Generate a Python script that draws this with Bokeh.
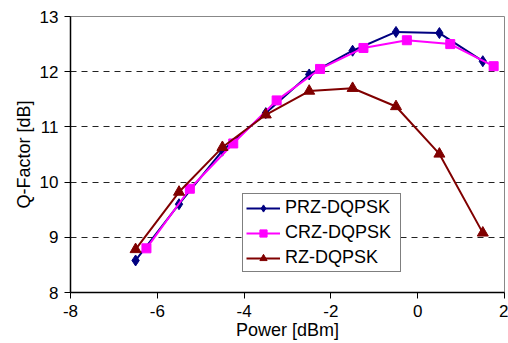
from bokeh.plotting import figure
from bokeh.models import FixedTicker, Range1d, Legend, LegendItem
from bokeh.embed import file_html
from bokeh.resources import INLINE

x_prz = [-6.5, -5.5, -4.5, -3.5, -2.5, -1.5, -0.5, 0.5, 1.5]
q_prz = [8.58, 9.60, 10.57, 11.25, 11.95, 12.38, 12.72, 12.70, 12.19]

x_crz = [-6.25, -5.25, -4.25, -3.25, -2.25, -1.25, -0.25, 0.75, 1.75]
q_crz = [8.80, 9.88, 10.70, 11.48, 12.05, 12.43, 12.57, 12.50, 12.10]

x_rz = [-6.5, -5.5, -4.5, -3.5, -2.5, -1.5, -0.5, 0.5, 1.5]
q_rz = [8.78, 9.82, 10.63, 11.22, 11.65, 11.70, 11.37, 10.51, 9.08]

x_ticks = [-8, -6, -4, -2, 0, 2]
y_ticks = [8, 9, 10, 11, 12, 13]

FONT = "Liberation Sans"

p = figure(width=508, height=343, output_backend="svg", toolbar_location=None,
           x_range=Range1d(-8, 2), y_range=Range1d(8, 13),
           min_border_left=70, min_border_right=4, min_border_top=16, min_border_bottom=51)
p.background_fill_color = "white"
p.border_fill_color = "white"
p.outline_line_color = "#888888"
p.outline_line_width = 1

p.xaxis.ticker = FixedTicker(ticks=x_ticks)
p.yaxis.ticker = FixedTicker(ticks=y_ticks)
p.xaxis.major_label_overrides = {t: str(t) for t in x_ticks}
p.yaxis.major_label_overrides = {t: str(t) for t in y_ticks}
p.xgrid.visible = False
p.ygrid.ticker = FixedTicker(ticks=[9, 10, 11, 12])
p.ygrid.grid_line_color = "#222222"
p.ygrid.grid_line_dash = "6 5"
p.ygrid.grid_line_width = 1

for ax in (p.xaxis, p.yaxis):
    ax.axis_line_color = "black"
    ax.axis_line_width = 1.5
    ax.major_tick_line_color = "black"
    ax.major_tick_out = 6
    ax.major_tick_in = 0
    ax.minor_tick_line_color = None
    ax.major_label_text_font = FONT
    ax.major_label_text_font_size = "17px"
    ax.major_label_text_color = "black"
    ax.axis_label_text_font = FONT
    ax.axis_label_text_font_size = "18px"
    ax.axis_label_text_font_style = "normal"
    ax.axis_label_text_color = "black"

p.xaxis.axis_label = "Power [dBm]"
p.yaxis.axis_label = "Q-Factor [dB]"
p.xaxis.major_label_standoff = 6
p.yaxis.major_label_standoff = 6
p.xaxis.axis_label_standoff = 0
p.yaxis.axis_label_standoff = 3

l1 = p.line(x_prz, q_prz, line_color="#000080", line_width=2)
m1 = p.scatter(x_prz, q_prz, marker="diamond", size=11, fill_color="#000080", line_color="#000080")
l2 = p.line(x_crz, q_crz, line_color="#FF00FF", line_width=2)
m2 = p.scatter(x_crz, q_crz, marker="square", size=9, fill_color="#FF00FF", line_color="#FF00FF")
l3 = p.line(x_rz, q_rz, line_color="#800000", line_width=2)
m3 = p.scatter(x_rz, q_rz, marker="triangle", size=11, fill_color="#800000", line_color="#800000")

legend = Legend(items=[
    LegendItem(label="PRZ-DQPSK", renderers=[l1, m1]),
    LegendItem(label="CRZ-DQPSK", renderers=[l2, m2]),
    LegendItem(label="RZ-DQPSK", renderers=[l3, m3]),
], location=(172, 20))
legend.label_text_font = FONT
legend.label_text_font_size = "18px"
legend.label_text_color = "black"
legend.border_line_color = "black"
legend.border_line_width = 1
legend.background_fill_alpha = 1
legend.glyph_width = 34
legend.glyph_height = 18
legend.label_height = 18
legend.label_width = 112
legend.spacing = 4
legend.padding = 3
legend.margin = 0
legend.label_standoff = 5
p.add_layout(legend, "center")

open("out.html", "w").write(file_html(p, INLINE))
